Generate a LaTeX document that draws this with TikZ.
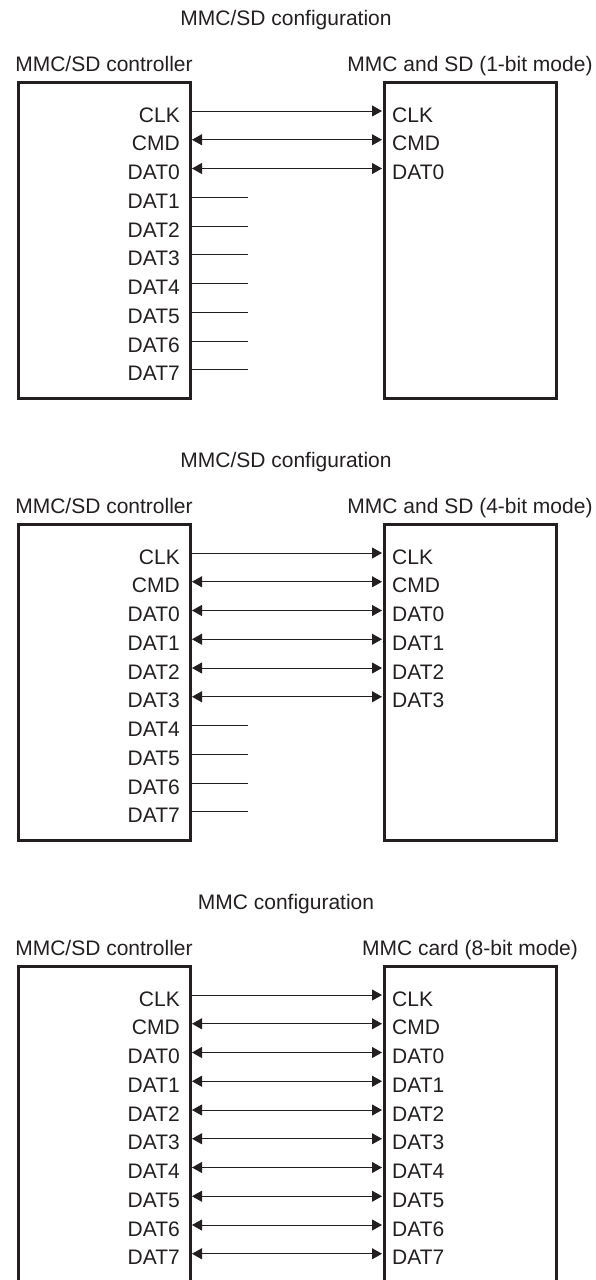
\documentclass[tikz,border=0pt]{standalone}
\usepackage{fontspec}
\setmainfont{Liberation Sans}
\usetikzlibrary{positioning,arrows.meta}
\definecolor{ink}{RGB}{35,31,32}
\begin{document}
\begin{tikzpicture}[
    x=1pt, y=-1pt,
    font=\fontsize{21pt}{25pt}\selectfont, color=ink,
    unit/.style={rectangle, draw=ink, line width=3pt, minimum width=172pt, minimum height=315.5pt, inner sep=0pt, outer sep=0pt},
    ttl/.style={anchor=base},
    head/.style={anchor=base},
    pinL/.style={anchor=base east, inner sep=0pt},
    pinR/.style={anchor=base west, inner sep=0pt},
    wire/.style={line width=0.9pt, draw=ink},
    tip/.style={-{Triangle[length=10pt,width=11pt]}},
    bus/.style={{Triangle[length=10pt,width=11pt]}-{Triangle[length=10pt,width=11pt]}}
]
\useasboundingbox (0,0) rectangle (595,1280);

% 1-bit mode
\node (ttlA) [ttl] at (286,25) {MMC/SD configuration};
\node (ctlA) [unit] at (104,240.25) {};
\node (cardA) [unit] at (470,240.25) {};
\node (ctlAhead) [above=11.5pt of ctlA, head] {MMC/SD controller};
\node (cardAhead) [above=11.5pt of cardA, head] {MMC and SD (1-bit mode)};
\foreach \s [count=\i from 0] in {CLK,CMD,DAT0,DAT1,DAT2,DAT3,DAT4,DAT5,DAT6,DAT7} {
    \node (ctlA-\i) [pinL] at (180,122+28.75*\i) {\s};
    \coordinate (ctlA-o\i) at (192,111+28.75*\i);
}
\foreach \s [count=\i from 0] in {CLK,CMD,DAT0} {
    \node (cardA-\i) [pinR] at (392,122+28.75*\i) {\s};
    \coordinate (cardA-i\i) at (382,111+28.75*\i);
}
\draw[wire,tip] (ctlA-o0) -- (cardA-i0);
\foreach \i in {1,2} \draw[wire,bus] (ctlA-o\i) -- (cardA-i\i);
\foreach \i in {3,...,9} {
    \coordinate (stubA-\i) at (248,111+28.75*\i);
    \draw[wire] (ctlA-o\i) -- (stubA-\i);
}

% 4-bit mode
\node (ttlB) [ttl] at (286,467) {MMC/SD configuration};
\node (ctlB) [unit] at (104,682.25) {};
\node (cardB) [unit] at (470,682.25) {};
\node (ctlBhead) [above=11.5pt of ctlB, head] {MMC/SD controller};
\node (cardBhead) [above=11.5pt of cardB, head] {MMC and SD (4-bit mode)};
\foreach \s [count=\i from 0] in {CLK,CMD,DAT0,DAT1,DAT2,DAT3,DAT4,DAT5,DAT6,DAT7} {
    \node (ctlB-\i) [pinL] at (180,564+28.75*\i) {\s};
    \coordinate (ctlB-o\i) at (192,553+28.75*\i);
}
\foreach \s [count=\i from 0] in {CLK,CMD,DAT0,DAT1,DAT2,DAT3} {
    \node (cardB-\i) [pinR] at (392,564+28.75*\i) {\s};
    \coordinate (cardB-i\i) at (382,553+28.75*\i);
}
\draw[wire,tip] (ctlB-o0) -- (cardB-i0);
\foreach \i in {1,...,5} \draw[wire,bus] (ctlB-o\i) -- (cardB-i\i);
\foreach \i in {6,...,9} {
    \coordinate (stubB-\i) at (248,553+28.75*\i);
    \draw[wire] (ctlB-o\i) -- (stubB-\i);
}

% 8-bit mode
\node (ttlC) [ttl] at (286,909) {MMC configuration};
\node (ctlC) [unit] at (104,1124.25) {};
\node (cardC) [unit] at (470,1124.25) {};
\node (ctlChead) [above=11.5pt of ctlC, head] {MMC/SD controller};
\node (cardChead) [above=11.5pt of cardC, head] {MMC card (8-bit mode)};
\foreach \s [count=\i from 0] in {CLK,CMD,DAT0,DAT1,DAT2,DAT3,DAT4,DAT5,DAT6,DAT7} {
    \node (ctlC-\i) [pinL] at (180,1006+28.75*\i) {\s};
    \coordinate (ctlC-o\i) at (192,995+28.75*\i);
    \node (cardC-\i) [pinR] at (392,1006+28.75*\i) {\s};
    \coordinate (cardC-i\i) at (382,995+28.75*\i);
}
\draw[wire,tip] (ctlC-o0) -- (cardC-i0);
\foreach \i in {1,...,9} \draw[wire,bus] (ctlC-o\i) -- (cardC-i\i);

\end{tikzpicture}
\end{document}
